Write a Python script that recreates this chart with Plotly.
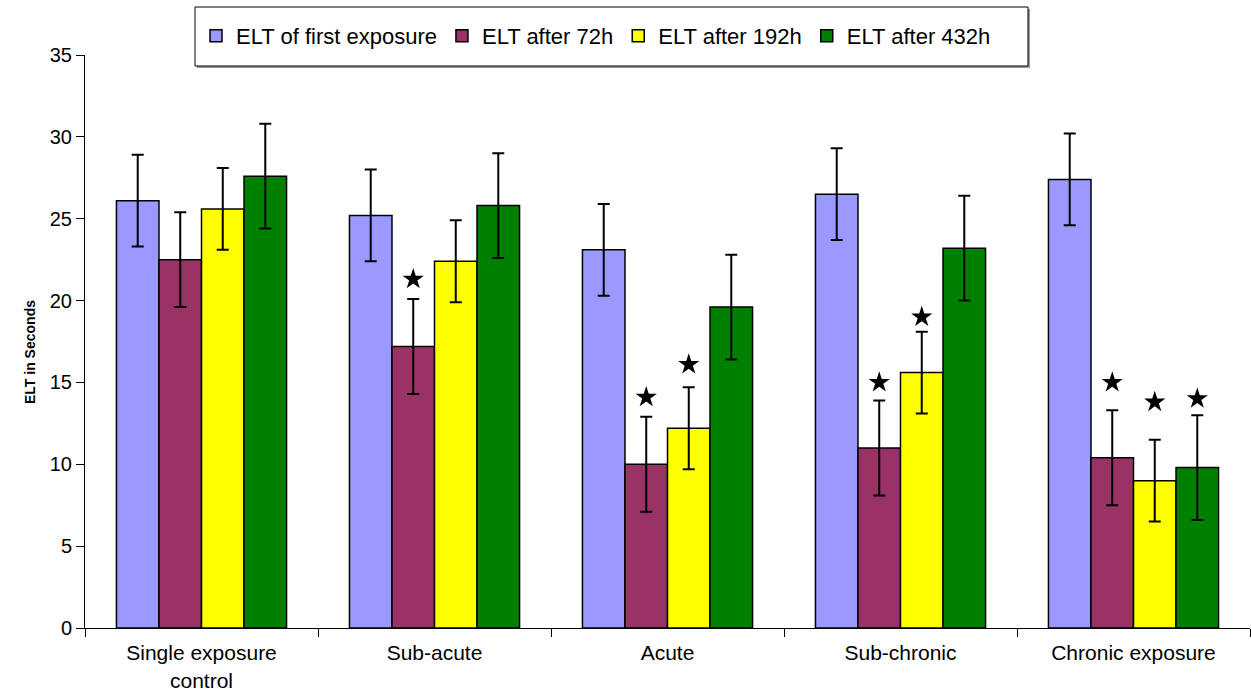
import plotly.graph_objects as go

# Groups and series
groups = ["Single exposure<br>control", "Sub-acute", "Acute", "Sub-chronic", "Chronic exposure"]
series_names = ["ELT of first exposure", "ELT after 72h", "ELT after 192h", "ELT after 432h"]
colors = ["#9999FF", "#993366", "#FFFF00", "#008000"]

# Mean ELT (seconds) per group, one list per series
elt_first = [26.1, 25.2, 23.1, 26.5, 27.4]
elt_72h = [22.5, 17.2, 10.0, 11.0, 10.4]
elt_192h = [25.6, 22.4, 12.2, 15.6, 9.0]
elt_432h = [27.6, 25.8, 19.6, 23.2, 9.8]

# Error bar half-lengths
err_first = [2.8, 2.8, 2.8, 2.8, 2.8]
err_72h = [2.9, 2.9, 2.9, 2.9, 2.9]
err_192h = [2.5, 2.5, 2.5, 2.5, 2.5]
err_432h = [3.2, 3.2, 3.2, 3.2, 3.2]

# Significance star heights (None = no star)
star_first = [None, None, None, None, None]
star_72h = [None, 21.3, 14.1, 15.0, 15.0]
star_192h = [None, None, 16.1, 19.0, 13.8]
star_432h = [None, None, None, None, 14.0]

values = [elt_first, elt_72h, elt_192h, elt_432h]
errors = [err_first, err_72h, err_192h, err_432h]
stars = [star_first, star_72h, star_192h, star_432h]

FONT = "Liberation Sans, Arial, sans-serif"
GAP = 0.27
W, H = 1251, 691
ML, MR, MT, MB = 85, 1, 55, 63
PW, PH = W - ML - MR, H - MT - MB


def px_x(p):
    """Pixel column -> paper x."""
    return (p - ML) / PW


def px_y(p):
    """Pixel row -> paper y."""
    return 1 + (MT - p) / PH


fig = go.Figure()
for i, name in enumerate(series_names):
    fig.add_trace(go.Bar(
        name=name, x=groups, y=values[i],
        marker=dict(color=colors[i], line=dict(color="black", width=1.5)),
        error_y=dict(type="data", array=errors[i], visible=True,
                     color="black", thickness=2, width=6),
        offsetgroup=str(i),
    ))

for i, name in enumerate(series_names):
    fig.add_trace(go.Scatter(
        x=groups, y=stars[i],
        mode="markers", showlegend=False, hoverinfo="skip",
        marker=dict(symbol="star", size=16, color="black"),
        offsetgroup=str(i),
    ))

# Legend frame with a soft drop shadow
box = dict(x0=px_x(195), x1=px_x(1028), y0=px_y(66), y1=px_y(7))
fig.add_shape(type="rect", xref="paper", yref="paper",
              x0=box["x0"] + 2 / PW, x1=box["x1"] + 2 / PW,
              y0=box["y0"] - 2 / PH, y1=box["y1"] - 2 / PH,
              line=dict(width=0), fillcolor="#9a9a9a", layer="below")
fig.add_shape(type="rect", xref="paper", yref="paper", **box,
              line=dict(color="black", width=1), fillcolor="white", layer="below")

fig.add_annotation(
    text="<b>ELT in Seconds</b>", textangle=-90,
    xref="paper", yref="paper", x=px_x(20), y=px_y(352),
    showarrow=False, font=dict(size=14, family=FONT, color="black"),
)

fig.update_layout(
    width=W, height=H,
    margin=dict(l=ML, r=MR, t=MT, b=MB, autoexpand=False),
    paper_bgcolor="white", plot_bgcolor="rgba(0,0,0,0)",
    barmode="group", bargap=GAP, bargroupgap=0,
    scattermode="group", scattergap=GAP,
    font=dict(family=FONT, color="black"),
    legend=dict(
        orientation="h", x=px_x(196), y=px_y(36), xanchor="left", yanchor="middle",
        font=dict(size=22, family=FONT),
        borderwidth=0, bgcolor="rgba(0,0,0,0)", itemwidth=30,
        entrywidth=0,
        traceorder="normal",
    ),
    xaxis=dict(
        automargin=False,
        showline=True, linecolor="black", linewidth=1,
        ticks="outside", ticklen=8, tickcolor="black",
        tickson="boundaries", ticklabelstandoff=6,
        tickfont=dict(size=21, family=FONT),
        showgrid=False,
    ),
    yaxis=dict(
        automargin=False,
        range=[0, 35], dtick=5,
        showline=True, linecolor="black", linewidth=1,
        ticks="outside", ticklen=8, tickcolor="black",
        tickfont=dict(size=20, family=FONT),
        showgrid=False, zeroline=False,
    ),
)

fig.write_html("out.html")
